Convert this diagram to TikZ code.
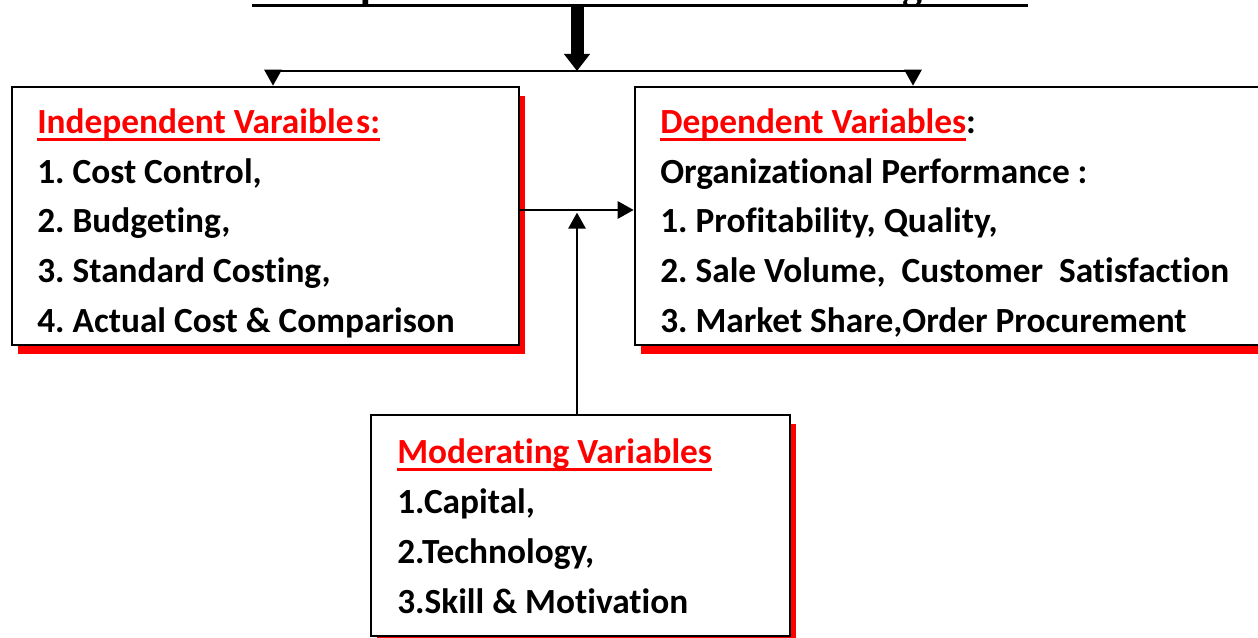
\documentclass[tikz,border=0pt]{standalone}
\usepackage{fontspec}
\setmainfont{Carlito}[Ligatures=NoCommon]
\newfontfamily\titlefont{Liberation Serif}
\usetikzlibrary{arrows.meta, fit, shadows}
\frenchspacing

\definecolor{headred}{RGB}{255,0,0}
\newlength{\headwd}
% red heading with a thick rule through the descenders
\newcommand{\heading}[1]{\settowidth{\headwd}{#1}%
    \textcolor{headred}{\rlap{\rule[-6pt]{\headwd}{2.6pt}}#1}}

\tikzset{
    varbox/.style={draw, line width=2pt, fill=white, inner sep=0pt,
        drop shadow={shadow xshift=4.5pt, shadow yshift=-6.5pt, fill=headred, opacity=1}},
    varlist/.style={anchor=base west, align=left, inner sep=0pt,
        font=\fontsize{26.5}{37.5}\selectfont\bfseries},
    link/.style={line width=1.5pt, -{Triangle[length=12pt,width=13pt]}},
}

\begin{document}
\begin{tikzpicture}[x=0.75pt, y=-0.75pt]
    \useasboundingbox (0,0) rectangle (1258,638);

    % title, mostly above the page
    \node[font=\titlefont\fontsize{30}{36}\selectfont\bfseries, anchor=base, inner sep=0pt]
        (title) at (640,-1.5) {Conceptual Framework of Cost Management};
    \draw[line width=2.6pt] (252,5.5) -- (1028,5.5);

    % the three boxes
    \node[varbox, fit={(12,87) (519,345)}] (indep) {};
    \node[varbox, fit={(635,87) (1275,345)}] (dep) {};
    \node[varbox, fit={(371,415) (790,636)}] (moder) {};

    % lists sit on the baseline of their last line
    \node[varlist] (indeplist) at (37,333) {\heading{Independent Varaible\kern2pt s:}\\
        1. Cost Control,\\
        2. Budgeting,\\
        3. Standard Costing,\\
        4. Actual Cost \& Comparison};
    \node[varlist] (deplist) at (660,333) {\heading{Dependent Variables}:\\
        Organizational Performance :\\
        1. Profitability, Quality,\\
        2. Sale Volume,\ \ Customer\ \ Satisfaction\\
        3. Market Share,Order Procurement};
    \node[varlist] (moderlist) at (397,613) {\heading{Moderating Variables}\\
        1.Capital,\\
        2.Technology,\\
        3.Skill \& Motivation};

    % split from the title into both boxes
    \coordinate (split) at (577,71);
    \coordinate (lefttop) at (273,71);
    \coordinate (righttop) at (913,71);
    \draw[line width=9.75pt, -{Triangle[length=12.75pt,width=18.75pt]}] (577,6) -- (split);
    \draw[line width=1.5pt] (lefttop) -- (righttop);
    \draw[link] (lefttop) -- (lefttop |- indep.north);
    \draw[link] (righttop) -- (righttop |- dep.north);

    % independent -> dependent, moderated from below
    \coordinate (join) at (577,210);
    \draw[link] (indep.east |- join) -- (dep.west |- join);
    \draw[link] (join |- moder.north) -- ([yshift=-2pt]join);
\end{tikzpicture}
\end{document}
